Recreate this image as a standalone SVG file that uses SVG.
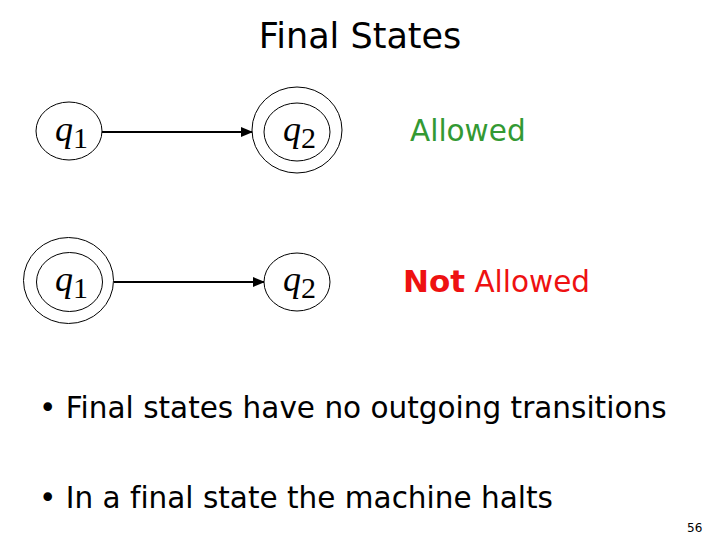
<svg xmlns="http://www.w3.org/2000/svg" width="720" height="540" viewBox="0 0 720 540">
<style>
.st{fill:#fff;stroke:#000;stroke-width:1}
.q{font-family:"Liberation Serif",serif;font-size:36px;fill:#000}
.q .v{font-style:italic}
.q .sb{font-size:30px}
.t{font-family:"DejaVu Sans","Liberation Sans",sans-serif;fill:#000;font-variant-ligatures:none}
.edge{stroke:#000;stroke-width:2;fill:none}
</style>
<defs>
<marker id="ah" markerWidth="12" markerHeight="10" refX="11" refY="5" orient="auto" markerUnits="userSpaceOnUse">
<path d="M0,0 L12,5 L0,10 Z" fill="#000"/>
</marker>
</defs>
<rect width="720" height="540" fill="#fff"/>
<text class="t" x="360" y="48" font-size="35" text-anchor="middle">Final States</text>
<g id="connectors">
<line class="edge" x1="102" y1="132" x2="252" y2="132" marker-end="url(#ah)"/>
<line class="edge" x1="114" y1="282" x2="264" y2="282" marker-end="url(#ah)"/>
</g>
<g id="a_q1">
<ellipse class="st" cx="69" cy="131" rx="33" ry="29"/>
<text class="q" x="55" y="141"><tspan class="v">q</tspan><tspan class="sb" dy="7">1</tspan></text>
</g>
<g id="a_q2">
<ellipse class="st" cx="297" cy="130" rx="45" ry="43"/>
<ellipse class="st" cx="297" cy="132" rx="33" ry="29"/>
<text class="q" x="283" y="141"><tspan class="v">q</tspan><tspan class="sb" dy="7">2</tspan></text>
</g>
<g id="b_q1">
<ellipse class="st" cx="68.5" cy="280.5" rx="45" ry="43"/>
<ellipse class="st" cx="69.5" cy="282" rx="33" ry="29.5"/>
<text class="q" x="55" y="291"><tspan class="v">q</tspan><tspan class="sb" dy="7">1</tspan></text>
</g>
<g id="b_q2">
<ellipse class="st" cx="297" cy="282" rx="33" ry="29"/>
<text class="q" x="283" y="291"><tspan class="v">q</tspan><tspan class="sb" dy="7">2</tspan></text>
</g>
<text class="t" x="410" y="141" font-size="29.5" style="fill:#339933">Allowed</text>
<text class="t" x="403" y="292" font-size="29.5" style="fill:#ee1111"><tspan font-weight="bold" font-size="31">Not</tspan> Allowed</text>
<text class="t" x="39" y="418" font-size="29.5">• Final states have no outgoing transitions</text>
<text class="t" x="39" y="508" font-size="29.5">• In a final state the machine halts</text>
<text class="t" x="687" y="532" font-size="12">56</text>
</svg>
